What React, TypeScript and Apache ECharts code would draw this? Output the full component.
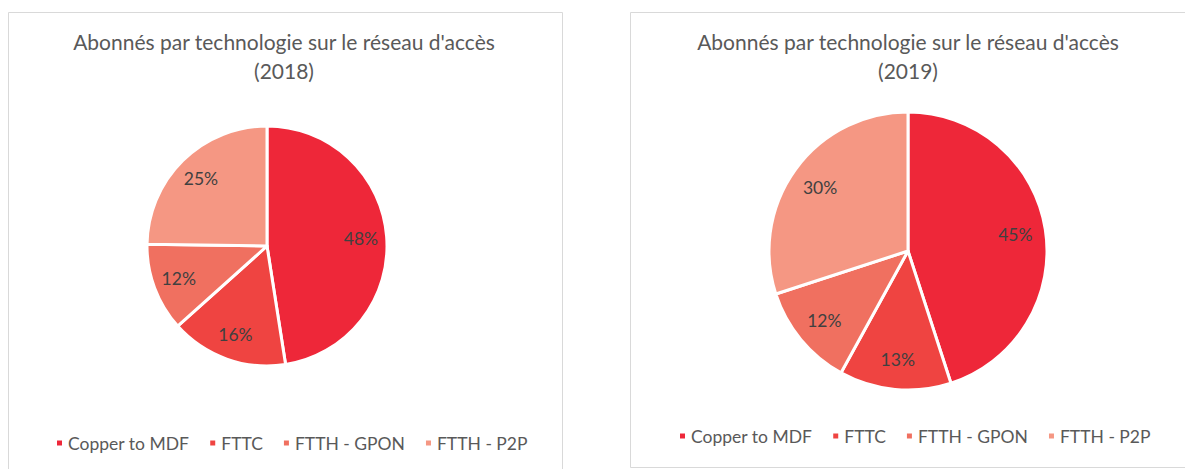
import React, { useEffect, useRef } from "react";
import * as echarts from "echarts";

const categories = ["Copper to MDF", "FTTC", "FTTH - GPON", "FTTH - P2P"];
const values2018 = [48, 16, 12, 25];
const values2019 = [45, 13, 12, 30];
const colors = ["#EE2739", "#EF4441", "#F07060", "#F59783"];
const titleText = "Abonnés par technologie sur le réseau d'accès";
const years = ["2018", "2019"];

const FONT = "Lato, 'Open Sans', sans-serif";

function pieSeries(values: number[], cx: number, cy: number, r: number) {
  const data = categories.map((name, i) => ({ name, value: values[i], itemStyle: { color: colors[i] } }));
  return [
    {
      type: "pie",
      center: [cx, cy],
      radius: [0, r],
      startAngle: 90,
      clockwise: true,
      data,
      label: { show: false },
      labelLine: { show: false },
      itemStyle: { borderColor: "#ffffff", borderWidth: 3 },
      emphasis: { disabled: true },
      silent: true,
    },
    {
      type: "pie",
      center: [cx, cy],
      radius: [r * 0.52, r],
      startAngle: 90,
      clockwise: true,
      data: categories.map((name, i) => ({ name, value: values[i] })),
      itemStyle: { color: "rgba(0,0,0,0)", borderWidth: 0 },
      label: {
        show: true,
        position: "inside",
        formatter: (p: any) => p.value + "%",
        color: "#404040",
        fontSize: 17.5,
        fontFamily: FONT,
      },
      labelLine: { show: false },
      emphasis: { disabled: true },
      silent: true,
    },
  ];
}

function legendAt(left: number, top: number) {
  return {
    data: categories,
    left,
    top,
    orient: "horizontal",
    icon: "rect",
    itemWidth: 7,
    itemHeight: 7,
    itemGap: 19,
    selectedMode: false,
    textStyle: { color: "#595959", fontSize: 17.5, fontFamily: FONT },
  };
}

export default function App() {
  const ref = useRef<HTMLDivElement>(null);
  useEffect(() => {
    if (!ref.current) return;
    const chart = echarts.init(ref.current, null, { renderer: "svg" });
    const titleStyle = { color: "#595959", fontSize: 21, fontWeight: "normal", fontFamily: FONT, lineHeight: 29 };
    chart.setOption({
      animation: false,
      backgroundColor: "#ffffff",
      title: [
        {
          text: titleText + "\n(" + years[0] + ")",
          left: 279,
          top: 22,
          textAlign: "center",
          textStyle: titleStyle,
        },
        {
          text: titleText + "\n(" + years[1] + ")",
          left: 903,
          top: 22,
          textAlign: "center",
          textStyle: titleStyle,
        },
      ],
      legend: [legendAt(50, 429), legendAt(673, 422)],
      graphic: [
        {
          type: "rect",
          shape: { x: 8.5, y: 12.5, width: 554, height: 470 },
          style: { fill: "none", stroke: "#d9d9d9", lineWidth: 1 },
          z: -1,
        },
        {
          type: "rect",
          shape: { x: 630.5, y: 12.5, width: 570, height: 455 },
          style: { fill: "none", stroke: "#d9d9d9", lineWidth: 1 },
          z: -1,
        },
      ],
      series: [...pieSeries(values2018, 267, 246, 120), ...pieSeries(values2019, 908, 251, 139)],
    });
    return () => chart.dispose();
  }, []);
  return (
    <div
      ref={ref}
      style={{ position: "fixed", left: 0, top: 0, width: 1185, height: 469 }}
    />
  );
}
